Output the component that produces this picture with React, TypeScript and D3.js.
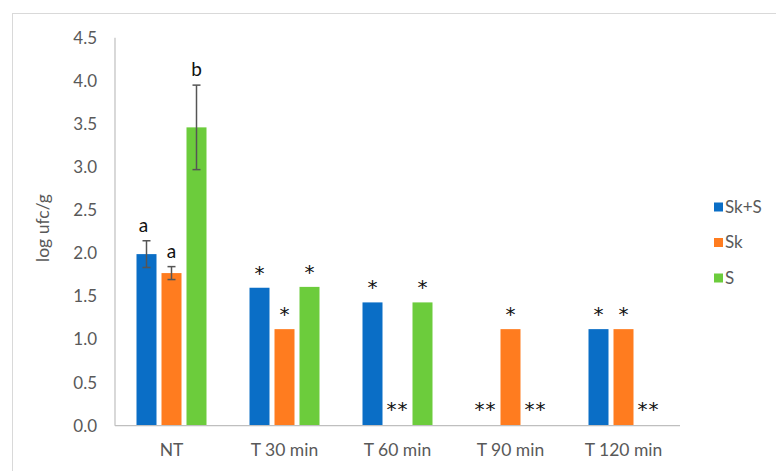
import React from "react";
import * as d3 from "d3";

const categories = ["NT", "T 30 min", "T 60 min", "T 90 min", "T 120 min"];
const seriesNames = ["Sk+S", "Sk", "S"];
const seriesColors = ["#0A6EC6", "#FF7C1F", "#6CCC3C"];
const valuesSkS: (number | null)[] = [1.99, 1.6, 1.43, null, 1.12];
const valuesSk: (number | null)[] = [1.77, 1.12, null, 1.12, 1.12];
const valuesS: (number | null)[] = [3.46, 1.61, 1.43, null, null];
const errorsSkS: (number | null)[] = [0.155, null, null, null, null];
const errorsSk: (number | null)[] = [0.075, null, null, null, null];
const errorsS: (number | null)[] = [0.49, null, null, null, null];
const labelsSkS = ["a", "*", "*", "**", "*"];
const labelsSk = ["a", "*", "**", "*", "*"];
const labelsS = ["b", "*", "*", "**", "**"];
const yTicks = [0, 0.5, 1, 1.5, 2, 2.5, 3, 3.5, 4, 4.5];

const W = 776;
const H = 471;
const FONT = "Lato, 'Open Sans', sans-serif";
const STAR_FONT = "'DejaVu Sans', sans-serif";

export default function App() {
  const x0 = d3.scaleBand<string>().domain(categories).range([115, 680]).padding(0);
  const x1 = d3
    .scaleBand<string>()
    .domain(seriesNames)
    .range([0, 70])
    .paddingInner(0.2)
    .paddingOuter(0);
  const innerOffset = (x0.step() - 70) / 2;
  const y = d3.scaleLinear().domain([0, 4.5]).range([425.7, 37.7]);

  const allValues = [valuesSkS, valuesSk, valuesS];
  const allErrors = [errorsSkS, errorsSk, errorsS];
  const allLabels = [labelsSkS, labelsSk, labelsS];

  const marks: React.ReactNode[] = [];
  categories.forEach((cat, ci) => {
    seriesNames.forEach((sn, si) => {
      const v = allValues[si][ci];
      const e = allErrors[si][ci];
      const lab = allLabels[si][ci];
      const bx = (x0(cat) as number) + innerOffset + (x1(sn) as number);
      const bw = x1.bandwidth();
      const cx = bx + bw / 2;
      if (v != null) {
        marks.push(
          <rect
            key={`b-${ci}-${si}`}
            x={bx}
            y={y(v)}
            width={bw}
            height={y(0) - y(v)}
            fill={seriesColors[si]}
          />
        );
      }
      if (v != null && e != null) {
        const top = y(v + e);
        const bot = y(v - e);
        marks.push(
          <g key={`e-${ci}-${si}`} stroke="#555" strokeWidth={1.5}>
            <line x1={cx} x2={cx} y1={top} y2={bot} />
            <line x1={cx - 4} x2={cx + 4} y1={top} y2={top} />
            <line x1={cx - 4} x2={cx + 4} y1={bot} y2={bot} />
          </g>
        );
      }
      const topVal = v == null ? null : e != null ? v + e : v;
      if (lab === "**") {
        marks.push(
          <text
            key={`l-${ci}-${si}`}
            x={cx}
            y={y(0) - 10}
            textAnchor="middle"
            fontSize={20}
            fill="#111"
            fontFamily={STAR_FONT}
            letterSpacing={1}
          >
            {"**"}
          </text>
        );
      } else if (lab === "*") {
        marks.push(
          <text
            key={`l-${ci}-${si}`}
            x={cx}
            y={y(topVal as number) - 8}
            textAnchor="middle"
            fontSize={20}
            fill="#111"
            fontFamily={STAR_FONT}
          >
            {"*"}
          </text>
        );
      } else {
        marks.push(
          <text
            key={`l-${ci}-${si}`}
            x={cx - (si === 0 ? 3 : 0)}
            y={y(topVal as number) - 9}
            textAnchor="middle"
            fontSize={19}
            fill="#111"
            fontFamily={FONT}
          >
            {lab}
          </text>
        );
      }
    });
  });

  return (
    <svg
      width={W}
      height={H}
      style={{ position: "absolute", left: 0, top: 0, background: "#fff" }}
    >
      <rect x={0} y={0} width={W} height={H} fill="#fff" />
      <line x1={12.5} x2={12.5} y1={13} y2={H} stroke="#d9d9d9" strokeWidth={1} />
      <line x1={12} x2={W} y1={13.5} y2={13.5} stroke="#d9d9d9" strokeWidth={1} />

      {/* y axis */}
      <line x1={115} x2={115} y1={y(4.5)} y2={y(0)} stroke="#bfbfbf" strokeWidth={1.2} />
      {yTicks.map((t) => (
        <text
          key={t}
          x={97}
          y={y(t)}
          dy="0.35em"
          textAnchor="end"
          fontSize={17}
          fill="#595959"
          fontFamily={FONT}
        >
          {d3.format(".1f")(t)}
        </text>
      ))}
      <text
        transform={`translate(43, 228) rotate(-90)`}
        textAnchor="middle"
        dy="0.35em"
        fontSize={17.5}
        fill="#595959"
        fontFamily={FONT}
      >
        log ufc/g
      </text>

      {marks}

      {/* x axis */}
      <line x1={115} x2={680} y1={y(0)} y2={y(0)} stroke="#bfbfbf" strokeWidth={1.2} />
      {categories.map((c) => (
        <text
          key={c}
          x={(x0(c) as number) + x0.bandwidth() / 2}
          y={450}
          dy="0.35em"
          textAnchor="middle"
          fontSize={17.5}
          fill="#595959"
          fontFamily={FONT}
        >
          {c}
        </text>
      ))}

      {/* legend */}
      {seriesNames.map((s, i) => (
        <g key={s} transform={`translate(714, ${207 + i * 35.5})`}>
          <rect x={0} y={-4.5} width={9} height={9} fill={seriesColors[i]} />
          <text x={11} y={0} dy="0.35em" fontSize={17} fill="#595959" fontFamily={FONT}>
            {s}
          </text>
        </g>
      ))}
    </svg>
  );
}
